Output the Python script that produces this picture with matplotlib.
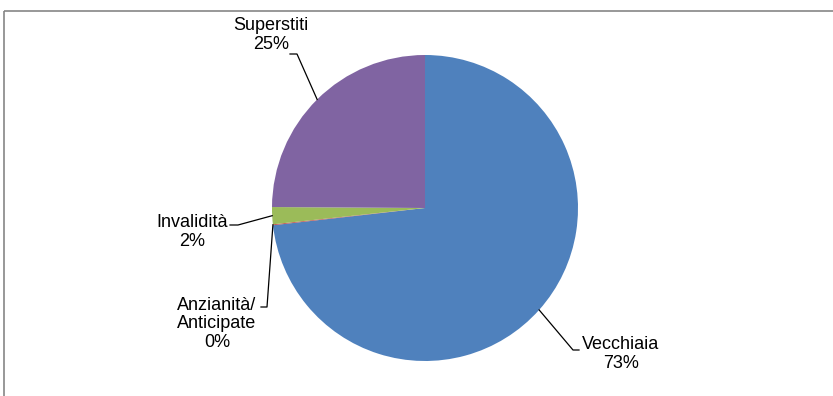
import numpy as np
import matplotlib.pyplot as plt
from matplotlib.patches import Rectangle

# pension types, share of total (%)
labels = ['Vecchiaia', 'Anzianità/\nAnticipate', 'Invalidità', 'Superstiti']
shares = [73.2, 0.1, 1.8, 24.9]
colors = ['#4F81BD', '#C0504D', '#9BBB59', '#8064A2']

plt.rcParams['font.family'] = ['Liberation Sans', 'DejaVu Sans']

fig = plt.figure(figsize=(8.33, 3.96), dpi=100)
ax = fig.add_axes([0, 0, 1, 1])

# work in pixel coords, y pointing down
cx, cy, r = 425, 208, 153
# y is inverted -> start at -90 and go "counterclock" to look clockwise from 12 o'clock
wedges, _ = ax.pie(shares, colors=colors, startangle=-90, counterclock=True,
                   center=(cx, cy), radius=r, frame=True,
                   wedgeprops=dict(linewidth=0))
ax.set_xlim(0, 833)
ax.set_ylim(396, 0)
ax.axis('off')

# chart frame (cropped at right/bottom)
ax.add_patch(Rectangle((4, 11), 840, 400, fill=False, ec='#868686', lw=1.2))

# label text centre, elbow point, end of horizontal tick
text_pos = [(621, 354), (217, 324), (192, 232), (271, 35)]
elbows = [(573, 350), (267, 307), (238, 225), (297, 54)]
tick_ends = [(579, 350), (261, 307), (230, 225), (290, 54)]

for w, lab, val, tp, el, te in zip(wedges, labels, shares, text_pos, elbows, tick_ends):
    ang = np.deg2rad((w.theta1 + w.theta2) / 2)
    ex = cx + r * np.cos(ang)
    ey = cy + r * np.sin(ang)
    ax.plot([ex, el[0], te[0]], [ey, el[1], te[1]], color='black', lw=0.9)
    ax.text(tp[0], tp[1], f'{lab}\n{val:.0f}%', ha='center', va='center',
            fontsize=13, linespacing=1.15)

fig.savefig('out.png', dpi=100)
